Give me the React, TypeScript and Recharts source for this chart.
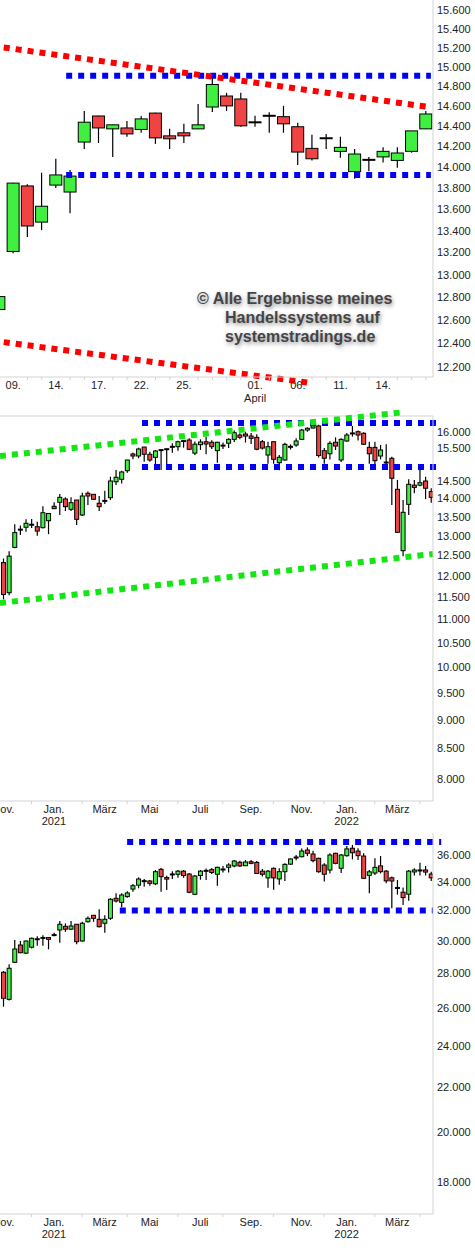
import React from 'react';
import { ComposedChart, Bar, XAxis, YAxis, ReferenceLine } from 'recharts';

const FONT = '"Liberation Sans", Arial, Helvetica, sans-serif';
const UP = '#40ef40';
const DOWN = '#f04444';
const AXIS = '#d3d3d3';
const BLUE = '#0000f5';
const RED = '#ff0000';
const LIME = '#14e614';

// ---------- top panel: daily candles ----------
const DAYS = ['08.03', '09.03', '10.03', '11.03', '14.03', '15.03', '16.03', '17.03', '18.03', '21.03', '22.03', '23.03', '24.03', '25.03', '28.03', '29.03', '30.03', '31.03', '01.04', '04.04', '05.04', '06.04', '07.04', '08.04', '11.04', '12.04', '13.04', '14.04', '19.04', '20.04', '21.04'];
const D_OPEN = [12692, 13210, 13820, 13480, 13828, 13762, 14244, 14502, 14374, 14383, 14368, 14531, 14305, 14335, 14374, 14592, 14703, 14673, 14432, 14498, 14495, 14395, 14182, 14278, 14153, 13957, 14065, 14099, 14065, 14153, 14374];
const D_HIGH = [12900, 13850, 13835, 13946, 14081, 13972, 14552, 14505, 14414, 14453, 14502, 14535, 14374, 14424, 14622, 14897, 14735, 14735, 14505, 14540, 14603, 14434, 14315, 14324, 14295, 14175, 14099, 14192, 14192, 14354, 14552];
const D_LOW = [12630, 13195, 13343, 13406, 13800, 13563, 14175, 14235, 14099, 14295, 14335, 14226, 14175, 14235, 14374, 14543, 14552, 14395, 14395, 14335, 14335, 14020, 14065, 14175, 14090, 13889, 13960, 14046, 13995, 14140, 14374];
const D_CLOSE = [12806, 13847, 13444, 13628, 13925, 13914, 14440, 14383, 14414, 14324, 14473, 14285, 14276, 14305, 14414, 14820, 14603, 14404, 14446, 14510, 14424, 14146, 14081, 14285, 14192, 14127, 14076, 14153, 14137, 14354, 14522];
const DAY_LABELS = ['09.03', '14.03', '17.03', '22.03', '25.03', '01.04', '06.04', '11.04', '14.04'];
const DAY_MONTHS = ['', '', '', '', '', 'April', '', '', ''];
const D_TICKS = [12200, 12400, 12600, 12800, 13000, 13200, 13400, 13600, 13800, 14000, 14200, 14400, 14600, 14800, 15000, 15200, 15400, 15600];
// trend lines: [from day index, from value, to day index, to value]
const D_RED_LINES = [[-0.5, 15220, 30.3, 14590], [-0.5, 12424, 22.05, 12064]];
const D_BLUE_LINES = [[4.72, 14910, 30.35, 14910], [4.72, 13924, 30.35, 13924]];

// ---------- weekly panels ----------
const WEEKS = [
  '2020-10-26', '2020-11-02', '2020-11-09', '2020-11-16', '2020-11-23', '2020-11-30', '2020-12-07', '2020-12-14', '2020-12-21', '2020-12-28',
  '2021-01-04', '2021-01-11', '2021-01-18', '2021-01-25', '2021-02-01', '2021-02-08', '2021-02-15', '2021-02-22', '2021-03-01', '2021-03-08',
  '2021-03-15', '2021-03-22', '2021-03-29', '2021-04-05', '2021-04-12', '2021-04-19', '2021-04-26', '2021-05-03', '2021-05-10', '2021-05-17',
  '2021-05-24', '2021-05-31', '2021-06-07', '2021-06-14', '2021-06-21', '2021-06-28', '2021-07-05', '2021-07-12', '2021-07-19', '2021-07-26',
  '2021-08-02', '2021-08-09', '2021-08-16', '2021-08-23', '2021-08-30', '2021-09-06', '2021-09-13', '2021-09-20', '2021-09-27', '2021-10-04',
  '2021-10-11', '2021-10-18', '2021-10-25', '2021-11-01', '2021-11-08', '2021-11-15', '2021-11-22', '2021-11-29', '2021-12-06', '2021-12-13',
  '2021-12-20', '2021-12-27', '2022-01-03', '2022-01-10', '2022-01-17', '2022-01-24', '2022-01-31', '2022-02-07', '2022-02-14', '2022-02-21',
  '2022-02-28', '2022-03-07', '2022-03-14', '2022-03-21', '2022-03-28', '2022-04-04', '2022-04-11',
];
const MONTH_TICK_WEEKS = ['2020-10-26', '2020-11-30', '2020-12-28', '2021-02-01', '2021-03-01', '2021-03-29', '2021-04-26', '2021-05-31', '2021-06-28', '2021-07-26', '2021-08-30', '2021-09-27', '2021-11-01', '2021-11-29', '2021-12-27', '2022-01-31', '2022-02-28', '2022-03-28'];
const MONTH_TICK_TEXT = ['Nov.', '', 'Jan.', '', 'März', '', 'Mai', '', 'Juli', '', 'Sep.', '', 'Nov.', '', 'Jan.', '', 'März', ''];
const MONTH_TICK_YEAR = ['', '', '2021', '', '', '', '', '', '', '', '', '', '', '', '2022', '', '', ''];

// middle panel
const M_OPEN = [12320, 11600, 12700, 13150, 13220, 13280, 13235, 13210, 13395, 13786, 13896, 13988, 13703, 13960, 13548, 14149, 14120, 13869, 13930, 14024, 14479, 14549, 14801, 15304, 15242, 15518, 15295, 15203, 15430, 15445, 15520, 15528, 15700, 15737, 15330, 15590, 15683, 15666, 15406, 15565, 15637, 15758, 15895, 15926, 15863, 15822, 15683, 15272, 15683, 15040, 15121, 15520, 15580, 15758, 16054, 16118, 16185, 15406, 15311, 15666, 15121, 15706, 15940, 16000, 15950, 15508, 15508, 15242, 15050, 15173, 14262, 12616, 13840, 14380, 14380, 14500, 14196];
const M_HIGH = [12420, 12600, 13300, 13270, 13435, 13440, 13370, 13790, 13600, 13896, 14130, 14035, 14035, 13960, 14165, 14196, 14120, 14072, 14222, 14624, 14822, 14800, 15121, 15345, 15498, 15518, 15375, 15426, 15430, 15457, 15635, 15715, 15737, 15790, 15690, 15760, 15840, 15730, 15683, 15660, 15790, 16040, 15950, 16000, 15960, 15920, 15740, 15683, 15700, 15272, 15650, 15600, 15790, 16090, 16140, 16270, 16220, 15485, 15700, 15820, 15790, 15960, 16185, 16040, 15980, 15683, 15683, 15580, 15604, 15222, 14529, 13960, 14549, 14529, 14822, 14624, 14292];
const M_LOW = [11450, 11540, 12680, 13020, 13105, 13200, 13000, 13190, 13040, 13715, 13550, 13656, 13656, 13280, 13521, 13821, 13960, 13656, 13849, 13960, 14384, 14430, 14740, 15142, 15173, 15070, 15070, 15000, 14822, 14990, 15345, 15406, 15500, 15426, 15270, 15430, 15295, 15460, 15040, 15457, 15485, 15674, 15760, 15660, 15611, 15420, 15440, 15010, 15010, 14816, 15100, 15440, 15528, 15740, 16000, 16100, 15200, 15010, 15140, 15426, 15060, 15680, 15843, 15720, 15580, 15010, 15000, 15140, 14990, 13821, 13080, 12480, 13548, 14149, 14350, 13984, 13885];
const M_CLOSE = [11560, 12480, 13080, 13165, 13326, 13295, 13120, 13610, 13590, 13720, 14035, 13775, 13885, 13432, 14072, 14072, 13980, 13775, 13941, 14500, 14608, 14763, 15121, 15242, 15457, 15295, 15121, 15395, 15416, 15457, 15528, 15683, 15706, 15448, 15607, 15674, 15611, 15528, 15666, 15558, 15758, 15968, 15822, 15863, 15790, 15450, 15485, 15528, 15142, 15203, 15601, 15528, 15706, 16054, 16110, 16185, 15257, 15173, 15632, 15548, 15758, 15895, 15950, 15895, 15604, 15311, 15101, 15426, 15040, 14578, 13088, 13621, 14405, 14316, 14451, 14292, 14035];
const M_TICKS = [8000, 8500, 9000, 9500, 10000, 10500, 11000, 11500, 12000, 12500, 13000, 13500, 14000, 14500, 15500, 16000];
const M_GREEN_LINES = [[-0.59, 15242, 71.4, 16641], [-0.59, 11365, 76.35, 12533]];
const M_BLUE_LINES = [[24.64, 16280, 77.06, 16280], [24.64, 14911, 77.06, 14911]];

// bottom panel
const B_OPEN = [28073, 26510, 28675, 29747, 29237, 29607, 30120, 30190, 30220, 30370, 30708, 30950, 30760, 31082, 30000, 31250, 31680, 31413, 31150, 31480, 32843, 32560, 32960, 33490, 33770, 34050, 34070, 33870, 34925, 34320, 34540, 34558, 34790, 34578, 33124, 34470, 34800, 34900, 34560, 34900, 35074, 35174, 35450, 35190, 35490, 35440, 34790, 34295, 35000, 34220, 34750, 35310, 35790, 35870, 36384, 36076, 35750, 35245, 34874, 36130, 35000, 35950, 36520, 36300, 35920, 34480, 34650, 35180, 34790, 34300, 33560, 33270, 33130, 34730, 34830, 34874, 34578];
const B_HIGH = [28150, 28556, 30064, 30000, 30030, 30230, 30300, 30360, 30230, 30530, 31299, 31140, 31299, 31082, 31250, 31600, 31680, 32086, 31680, 32850, 33192, 33192, 33330, 33855, 34337, 34215, 34140, 34874, 35030, 34450, 34790, 34874, 34874, 34650, 34500, 34874, 34990, 35030, 35120, 35170, 35370, 35620, 35560, 35620, 35620, 35546, 34950, 34874, 35050, 35000, 35370, 35750, 36000, 36500, 36590, 36330, 35800, 35370, 36130, 36175, 36076, 36690, 36780, 36520, 36130, 34874, 35750, 35920, 34874, 34400, 34140, 33600, 34874, 35000, 35420, 35170, 34750];
const B_LOW = [26097, 26440, 28640, 29230, 29180, 29530, 29700, 29700, 29477, 30310, 29890, 30590, 30708, 29800, 29960, 31200, 31250, 30870, 30532, 31370, 32560, 32220, 32886, 33300, 33545, 33660, 33730, 33770, 33303, 33426, 34215, 34300, 34300, 33200, 33080, 34160, 34140, 34578, 33731, 34690, 34690, 35080, 35100, 35170, 35300, 34580, 34400, 33587, 33450, 33800, 34070, 35245, 35600, 35830, 35920, 35450, 34680, 34030, 34620, 35300, 34660, 35870, 35670, 35620, 34215, 33192, 34500, 34620, 33900, 32153, 33100, 32380, 32680, 34470, 34470, 34470, 34070];
const B_CLOSE = [26568, 28314, 29495, 29263, 29999, 30172, 30106, 30200, 30106, 30384, 31082, 30760, 30970, 29956, 31150, 31479, 31479, 30924, 31413, 32776, 32656, 33073, 33214, 33731, 34215, 34070, 33900, 34750, 34382, 34207, 34558, 34790, 34470, 33264, 34433, 34790, 34820, 34690, 35074, 34925, 35245, 35546, 35174, 35470, 35370, 34620, 34560, 34790, 34295, 34750, 35294, 35700, 35830, 36306, 36130, 35570, 34747, 34560, 36000, 35370, 36000, 36470, 36175, 35950, 34265, 34740, 35074, 34750, 34080, 34070, 33580, 32890, 34790, 34874, 34850, 34720, 34300];
const B_TICKS = [18000, 20000, 22000, 24000, 26000, 28000, 30000, 32000, 34000, 36000];
const B_BLUE_LINES = [[22.0, 37000, 77.8, 37000], [20.7, 32000, 76.35, 32000]];

const toCandles = (o: number[], h: number[], l: number[], c: number[]) =>
  o.map((open, i) => ({
    i,
    wick: [l[i], h[i]],
    body: [Math.min(open, c[i]), Math.max(open, c[i])],
    up: c[i] >= open,
  }));

const dailyData = toCandles(D_OPEN, D_HIGH, D_LOW, D_CLOSE);
const middleData = toCandles(M_OPEN, M_HIGH, M_LOW, M_CLOSE);
const bottomData = toCandles(B_OPEN, B_HIGH, B_LOW, B_CLOSE);

const fmt = (v: number) => `${Math.floor(v / 1000)}.${String(v % 1000).padStart(3, '0')}`;

const Wick = (props: any) => {
  const { x, y, width, height } = props;
  const cx = x + width / 2;
  return <line x1={cx} x2={cx} y1={y} y2={y + height} stroke="#000" strokeWidth={1.2} />;
};

const Body = (props: any) => {
  const { x, y, width, height } = props;
  const up = props.payload ? props.payload.up : props.up;
  const top = Math.min(y, y + height);
  const h = Math.abs(height);
  if (h < 1.5) {
    return <rect x={x - 0.5} y={top + h / 2 - 1} width={width + 1} height={2} fill="#000" />;
  }
  return <rect x={x} y={top} width={width} height={h} fill={up ? UP : DOWN} stroke="#000" strokeWidth={1} />;
};

const DayTick = (props: any) => {
  const { x, y, payload } = props;
  const day = DAYS[payload.value];
  const k = DAY_LABELS.indexOf(day);
  if (k < 0) {
    return <line x1={x} x2={x} y1={y} y2={y + 3} stroke={AXIS} />;
  }
  return (
    <g>
      <text x={x} y={y + 12} textAnchor="middle" fontSize={11} fill="#222" fontFamily={FONT}>{day.slice(0, 3)}</text>
      {DAY_MONTHS[k] && (
        <text x={x} y={y + 25} textAnchor="middle" fontSize={11} fill="#222" fontFamily={FONT}>{DAY_MONTHS[k]}</text>
      )}
    </g>
  );
};

const WeekTick = (props: any) => {
  const { x, y, payload } = props;
  const k = MONTH_TICK_WEEKS.indexOf(WEEKS[payload.value]);
  const text = MONTH_TICK_TEXT[k];
  if (!text) {
    return <line x1={x} x2={x} y1={y} y2={y + 3} stroke={AXIS} />;
  }
  return (
    <g>
      <text x={x} y={y + 12} textAnchor="middle" fontSize={11} fill="#222" fontFamily={FONT}>{text}</text>
      {MONTH_TICK_YEAR[k] && (
        <text x={x} y={y + 24} textAnchor="middle" fontSize={11} fill="#222" fontFamily={FONT}>{MONTH_TICK_YEAR[k]}</text>
      )}
    </g>
  );
};

const trend = (seg: number[], color: string, key: string) => (
  <ReferenceLine
    key={key}
    segment={[{ x: seg[0], y: seg[1] }, { x: seg[2], y: seg[3] }]}
    stroke={color}
    strokeWidth={6}
    strokeDasharray="6 6"
    ifOverflow="visible"
  />
);

const yTick = { fontSize: 11, fill: '#222', fontFamily: FONT };

const dayIdx = DAYS.map((_, i) => i).filter((i) => i > 0);
const weekTickIdx = MONTH_TICK_WEEKS.map((w) => WEEKS.indexOf(w));
const D_XDOMAIN = [0.07, 30.5];
const W_XDOMAIN = [-0.59, 76.35];

export default function App() {
  return (
    <div style={{ position: 'absolute', left: 0, top: 0, width: 475, height: 1250, background: '#fff', fontFamily: FONT }}>
      <style>{'.recharts-surface{overflow:visible}'}</style>

      {/* daily */}
      <div style={{ position: 'absolute', left: 0, top: 0 }}>
        <ComposedChart width={475} height={410} data={dailyData} margin={{ top: 0, right: 0, bottom: 0, left: 0 }}>
          <XAxis
            type="number"
            dataKey="i"
            domain={D_XDOMAIN}
            allowDataOverflow
            ticks={dayIdx}
            interval={0}
            tick={DayTick}
            tickLine={false}
            tickSize={0}
            tickMargin={0}
            height={33}
            axisLine={{ stroke: AXIS }}
          />
          <XAxis xAxisId="b" type="number" dataKey="i" domain={D_XDOMAIN} allowDataOverflow hide />
          <YAxis
            orientation="right"
            scale="log"
            type="number"
            domain={[12116, 15708]}
            allowDataOverflow
            ticks={D_TICKS}
            interval={0}
            tickFormatter={fmt}
            tick={yTick}
            tickLine={false}
            tickSize={0}
            tickMargin={4}
            width={42}
            axisLine={{ stroke: AXIS }}
          />
          <Bar dataKey="wick" barSize={12} shape={Wick} isAnimationActive={false} />
          <Bar dataKey="body" xAxisId="b" barSize={12} shape={Body} isAnimationActive={false} />
          {D_BLUE_LINES.map((s, i) => trend(s, BLUE, 'db' + i))}
          {D_RED_LINES.map((s, i) => trend(s, RED, 'dr' + i))}
        </ComposedChart>
      </div>

      {/* weekly, middle */}
      <div style={{ position: 'absolute', left: 0, top: 416 }}>
        <ComposedChart width={475} height={415} data={middleData} margin={{ top: 0, right: 0, bottom: 0, left: 0 }}>
          <XAxis
            type="number"
            dataKey="i"
            domain={W_XDOMAIN}
            allowDataOverflow
            ticks={weekTickIdx}
            interval={0}
            tick={WeekTick}
            tickLine={false}
            tickSize={0}
            tickMargin={0}
            height={30}
            axisLine={{ stroke: AXIS }}
          />
          <XAxis xAxisId="b" type="number" dataKey="i" domain={W_XDOMAIN} allowDataOverflow hide />
          <YAxis
            orientation="right"
            scale="log"
            type="number"
            domain={[7653, 16510]}
            allowDataOverflow
            ticks={M_TICKS}
            interval={0}
            tickFormatter={fmt}
            tick={yTick}
            tickLine={false}
            tickSize={0}
            tickMargin={4}
            width={42}
            axisLine={{ stroke: AXIS }}
          />
          <ReferenceLine y={16510} stroke={AXIS} strokeWidth={1} />
          <Bar dataKey="wick" barSize={4} shape={Wick} isAnimationActive={false} />
          <Bar dataKey="body" xAxisId="b" barSize={4} shape={Body} isAnimationActive={false} />
          {M_BLUE_LINES.map((s, i) => trend(s, BLUE, 'mb' + i))}
          {M_GREEN_LINES.map((s, i) => trend(s, LIME, 'mg' + i))}
        </ComposedChart>
      </div>

      {/* weekly, bottom */}
      <div style={{ position: 'absolute', left: 0, top: 833 }}>
        <ComposedChart width={475} height={417} data={bottomData} margin={{ top: 0, right: 0, bottom: 0, left: 0 }}>
          <XAxis
            type="number"
            dataKey="i"
            domain={W_XDOMAIN}
            allowDataOverflow
            ticks={weekTickIdx}
            interval={0}
            tick={WeekTick}
            tickLine={false}
            tickSize={0}
            tickMargin={0}
            height={36}
            axisLine={{ stroke: AXIS }}
          />
          <XAxis xAxisId="b" type="number" dataKey="i" domain={W_XDOMAIN} allowDataOverflow hide />
          <YAxis
            orientation="right"
            scale="log"
            type="number"
            domain={[16816, 37720]}
            allowDataOverflow
            ticks={B_TICKS}
            interval={0}
            tickFormatter={fmt}
            tick={yTick}
            tickLine={false}
            tickSize={0}
            tickMargin={4}
            width={42}
            axisLine={{ stroke: AXIS }}
          />
          <Bar dataKey="wick" barSize={4} shape={Wick} isAnimationActive={false} />
          <Bar dataKey="body" xAxisId="b" barSize={4} shape={Body} isAnimationActive={false} />
          {B_BLUE_LINES.map((s, i) => trend(s, BLUE, 'bb' + i))}
        </ComposedChart>
      </div>

      {/* watermark */}
      <div
        style={{
          position: 'absolute',
          left: 0,
          top: 0,
          fontFamily: FONT,
          fontWeight: 'bold',
          fontSize: 16,
          lineHeight: '19px',
          color: '#444',
          whiteSpace: 'pre',
          textShadow: '1px 2px 4px rgba(0,0,0,0.45)',
          pointerEvents: 'none',
        }}
      >
        <div style={{ position: 'absolute', left: 197, top: 289 }}>© Alle Ergebnisse meines</div>
        <div style={{ position: 'absolute', left: 225, top: 308 }}>Handelssystems auf</div>
        <div style={{ position: 'absolute', left: 225, top: 327 }}>systemstradings.de</div>
      </div>
    </div>
  );
}
